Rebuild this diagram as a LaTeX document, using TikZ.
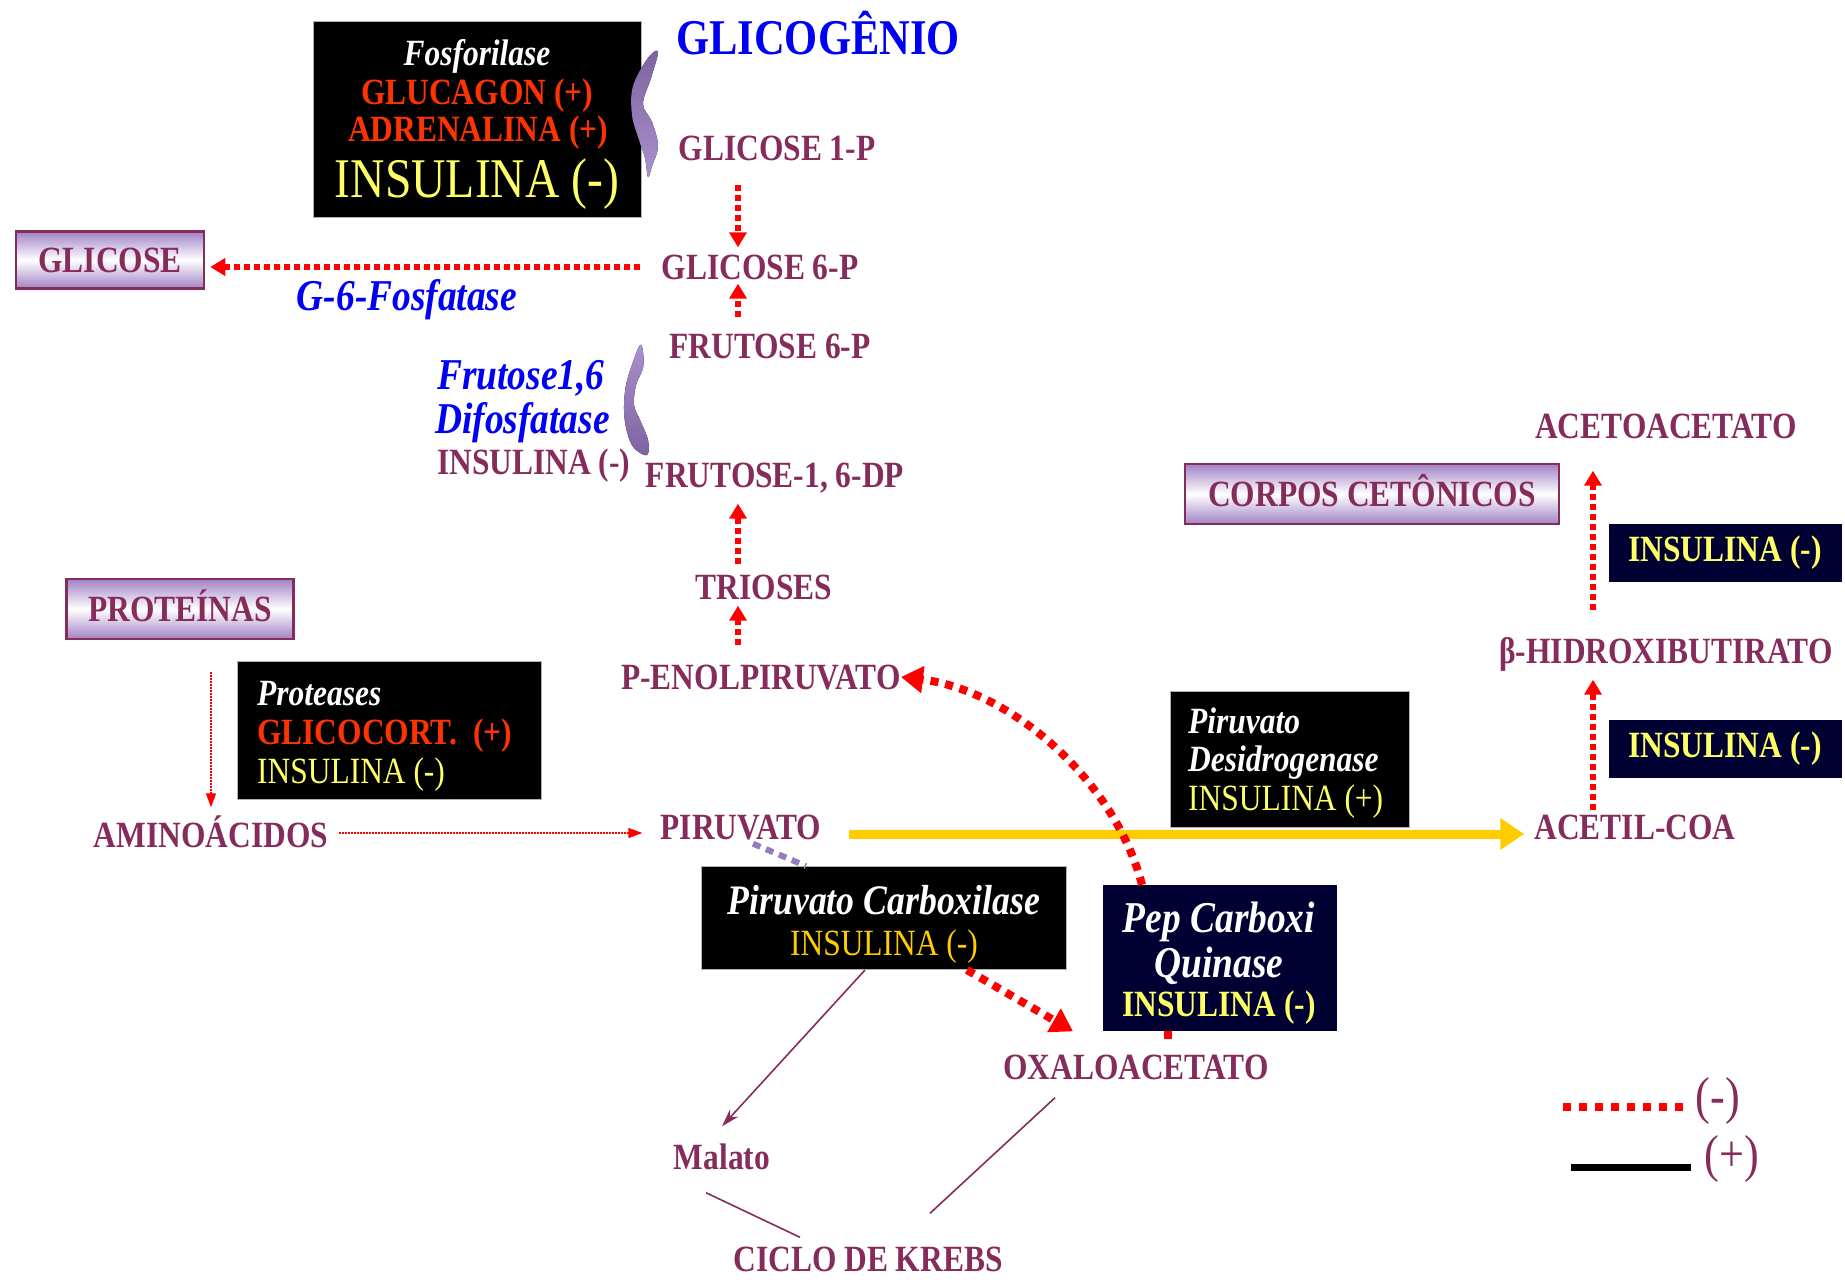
\documentclass[tikz,border=0pt]{standalone}
\usepackage{fontspec}
\setmainfont{Liberation Serif}[FakeStretch=0.85]
\usetikzlibrary{arrows.meta}

\definecolor{metab}{RGB}{134,44,92}
\definecolor{hormred}{RGB}{255,51,0}
\definecolor{insyel}{RGB}{255,255,102}
\definecolor{insgold}{RGB}{255,204,0}
\definecolor{enzblue}{RGB}{0,0,245}
\definecolor{navybg}{RGB}{0,0,51}
\definecolor{lilac}{RGB}{160,130,196}
\definecolor{smudgecol}{RGB}{150,125,190}
\definecolor{smudgedark}{RGB}{125,100,160}
\definecolor{smudgelight}{RGB}{170,145,205}

\newcommand{\fsz}[1]{\fontsize{#1}{#1}\selectfont}

\tikzset{
  met/.style={font={\fsz{37}\bfseries}, text=metab, inner sep=0pt, text height=25pt, text depth=0pt},
  enz/.style={font={\fsz{37}\bfseries\itshape}, text=white, inner sep=0pt, text height=25pt, text depth=0pt},
  horm/.style={font={\fsz{37}\bfseries}, text=hormred, inner sep=0pt, text height=25pt, text depth=0pt},
  ins/.style={font={\fsz{37}}, text=insyel, inner sep=0pt, text height=25pt, text depth=0pt},
  gradbox/.style={draw=metab, line width=2.5pt, top color=lilac, bottom color=lilac, middle color=white,
    font={\fsz{37}\bfseries}, text=metab, inner sep=0pt, text height=25pt, text depth=0pt},
  blackbox/.style={fill=black, draw=gray!60, line width=1pt, inner sep=0pt},
  navybox/.style={fill=navybg, inner sep=0pt},
  redarr/.style={red, line width=6pt, dash pattern=on 6pt off 4pt, -{Triangle[length=15pt,width=17pt]}},
  redarrbig/.style={red, line width=8pt, dash pattern=on 8pt off 7pt, -{Triangle[length=22pt,width=26pt]}},
  redline/.style={red, line width=8pt, dash pattern=on 8pt off 8pt},
  reddot/.style={red, line width=1.3pt, dash pattern=on 1.5pt off 1.5pt, -{Triangle[length=14pt,width=10pt]}},
  yelarr/.style={insgold, line width=9pt, -{Triangle[length=24pt,width=30pt]}},
  kreb/.style={metab, line width=1.6pt},
  lavdash/.style={smudgecol, line width=6pt, dash pattern=on 8pt off 6pt}
}

\begin{document}
\begin{tikzpicture}[x=1pt,y=-1pt]
\useasboundingbox (0,0) rectangle (1845,1282);

% glycogen breakdown
\node[blackbox, minimum width=328pt, minimum height=196pt] (fosbox) at (477,119) {};
\node[enz] (fos1) at (477,53) {Fosforilase};
\node[horm] (fos2) at (477,92) {GLUCAGON (+)};
\node[horm] (fos3) at (478,129) {ADRENALINA (+)};
\node[ins, font=\fsz{56}, text height=37pt] (fos4) at (477,179) {INSULINA (-)};

\node[met, font={\fsz{50}\bfseries}, text=enzblue, text height=33pt] (glicogenio) at (818,38) {GLICOGÊNIO};
\node[met] (glic1p) at (777,148) {GLICOSE 1-P};
\node[met] (glic6p) at (760,267) {GLICOSE 6-P};
\node[gradbox, minimum width=188pt, minimum height=57pt] (glicose) at (110,260) {GLICOSE};
\node[met, font={\fsz{44}\bfseries\itshape}, text=enzblue] (g6fosf) at (407,298) {G-6-Fosfatase};

\node[met] (frut6p) at (770,346) {FRUTOSE 6-P};
\node[met, anchor=west, font={\fsz{44}\bfseries\itshape}, text=enzblue] (fdp1) at (437,377) {Frutose1,6};
\node[met, anchor=west, font={\fsz{44}\bfseries\itshape}, text=enzblue] (fdp2) at (435,421) {Difosfatase};
\node[met, anchor=west] (fdp3) at (437,462) {INSULINA (-)};
\node[met] (frut16dp) at (775,475) {FRUTOSE-1, 6-DP};
\node[met] (trioses) at (764,587) {TRIOSES};
\node[met] (pep) at (761,677) {P-ENOLPIRUVATO};

% enzyme smudges
\fill[top color=smudgedark, bottom color=smudgelight] plot[smooth cycle, tension=0.6] coordinates
  {(658,52) (651,78) (643,104) (652,122) (658,146) (652,166) (648,177) (645,158) (639,140) (632,115) (633,86) (648,58)};
\fill[top color=smudgelight, bottom color=smudgedark] plot[smooth cycle, tension=0.6] coordinates
  {(640,345) (633,362) (626,385) (624,410) (627,432) (634,448) (647,455) (648,440) (640,420) (634,405) (636,385) (643,368) (643,352)};

\coordinate (mainx) at (738,0);
\draw[redarr, shorten <=24pt, shorten >=7pt] (glic1p.south -| mainx) -- (glic6p.north -| mainx);
\draw[redarr, shorten <=22pt, shorten >=5pt] (glic6p.west) -- (glic6p.west -| glicose.east);
\draw[redarr, shorten <=16pt, shorten >=4pt] (frut6p.north -| mainx) -- (glic6p.south -| mainx);
\draw[redarr, shorten <=10pt, shorten >=16pt] (trioses.north -| mainx) -- (frut16dp.south -| mainx);
\draw[redarr, shorten <=19pt, shorten >=6pt] (pep.north -| mainx) -- (trioses.south -| mainx);

% proteins
\node[gradbox, minimum width=227pt, minimum height=60pt] (proteinas) at (180,609) {PROTEÍNAS};
\node[blackbox, minimum width=304pt, minimum height=138pt] (protbox) at (389,730) {};
\node[enz, anchor=west] (prot1) at (257,693) {Proteases};
\node[horm, anchor=west] (prot2) at (257,732) {GLICOCORT.\ \ (+)};
\node[ins, anchor=west] (prot3) at (257,771) {INSULINA (-)};
\node[met] (amino) at (211,835) {AMINOÁCIDOS};
\node[met] (piruvato) at (741,827) {PIRUVATO};

\draw[reddot, shorten <=32pt, shorten >=15pt] (proteinas.south -| amino) -- (amino.north);
\draw[reddot, shorten <=11pt, shorten >=18pt] ([yshift=2pt]amino.east) -- ([yshift=2pt]amino.east -| piruvato.west);

% pyruvate to acetyl-CoA and ketone bodies
\node[blackbox, minimum width=239pt, minimum height=136pt] (pdhbox) at (1290,759) {};
\node[enz, anchor=west] (pdh1) at (1188,721) {Piruvato};
\node[enz, anchor=west] (pdh2) at (1188,759) {Desidrogenase};
\node[ins, anchor=west] (pdh3) at (1188,798) {INSULINA (+)};
\node[met] (acetil) at (1635,827) {ACETIL-COA};
\node[met] (bhidrox) at (1666,651) {β-HIDROXIBUTIRATO};
\node[met] (acetoac) at (1666,426) {ACETOACETATO};
\node[gradbox, minimum width=374pt, minimum height=60pt] (corpos) at (1372,494) {CORPOS CETÔNICOS};
\node[navybox, minimum width=233pt, minimum height=58pt, font={\fsz{37}\bfseries}, text=insyel] (insbox1) at (1725,749) {INSULINA (-)};
\node[navybox, minimum width=233pt, minimum height=58pt, font={\fsz{37}\bfseries}, text=insyel] (insbox2) at (1725,553) {INSULINA (-)};

\draw[yelarr, shorten <=27pt, shorten >=10pt] ([yshift=-7pt]piruvato.east) -- ([yshift=-7pt]acetil.west);
\coordinate (ketx) at (1593,0);
\draw[redarr, shorten <=4pt, shorten >=16pt] (acetil.north -| ketx) -- (bhidrox.south -| ketx);
\draw[redarr, shorten <=28pt, shorten >=32pt] (bhidrox.north -| ketx) -- (acetoac.south -| ketx);

% oxaloacetate branch
\node[blackbox, minimum width=365pt, minimum height=103pt] (carbbox) at (884,918) {};
\node[enz, font={\fsz{42}\bfseries\itshape}, text height=28pt] (carb1) at (884,900) {Piruvato Carboxilase};
\node[ins, text=insgold] (carb2) at (884,943) {INSULINA (-)};
\node[navybox, minimum width=234pt, minimum height=146pt] (pepbox) at (1220,958) {};
\node[enz, font={\fsz{44}\bfseries\itshape}, text height=29pt] (pepk1) at (1219,918) {Pep Carboxi};
\node[enz, font={\fsz{44}\bfseries\itshape}, text height=29pt] (pepk2) at (1219,963) {Quinase};
\node[met, text=insyel] (pepk3) at (1219,1004) {INSULINA (-)};
\node[met] (oxalo) at (1136,1067) {OXALOACETATO};
\node[met] (malato) at (722,1157) {Malato};
\node[met] (ciclo) at (868,1259) {CICLO DE KREBS};

\draw[lavdash] ([xshift=12pt,yshift=-4pt]piruvato.south) -- ([xshift=-78pt]carbbox.north);
\draw[redarrbig] ([xshift=-78pt]pepbox.north) .. controls (1115,780) and (1010,690) .. (pep.east);
\draw[redarrbig] ([xshift=83pt]carbbox.south) -- ([xshift=-63pt,yshift=23pt]oxalo.north);
\draw[redline] ([xshift=-52pt]pepbox.south) -- ([xshift=32pt,yshift=8pt]oxalo.north);
\draw[kreb, -{Stealth[length=18pt,width=11pt]}] ([xshift=-19pt]carbbox.south) -- ([yshift=18pt]malato.north);
\draw[kreb] ([xshift=-16pt,yshift=-23pt]malato.south) -- ([xshift=-68pt,yshift=9pt]ciclo.north);
\draw[kreb] ([xshift=-81pt,yshift=-18pt]oxalo.south) -- ([xshift=62pt,yshift=33pt]ciclo.north);

% legend
\coordinate (legneg) at (1563,1107);
\coordinate (legpos) at (1571,1167);
\draw[redline] (legneg) -- ++(120,0);
\draw[black, line width=7pt] (legpos) -- ++(120,0);
\node[met, font=\fsz{52}, text height=35pt] (negtxt) at (1718,1096) {(-)};
\node[met, font=\fsz{52}, text height=35pt] (postxt) at (1732,1154) {(+)};
\end{tikzpicture}
\end{document}
